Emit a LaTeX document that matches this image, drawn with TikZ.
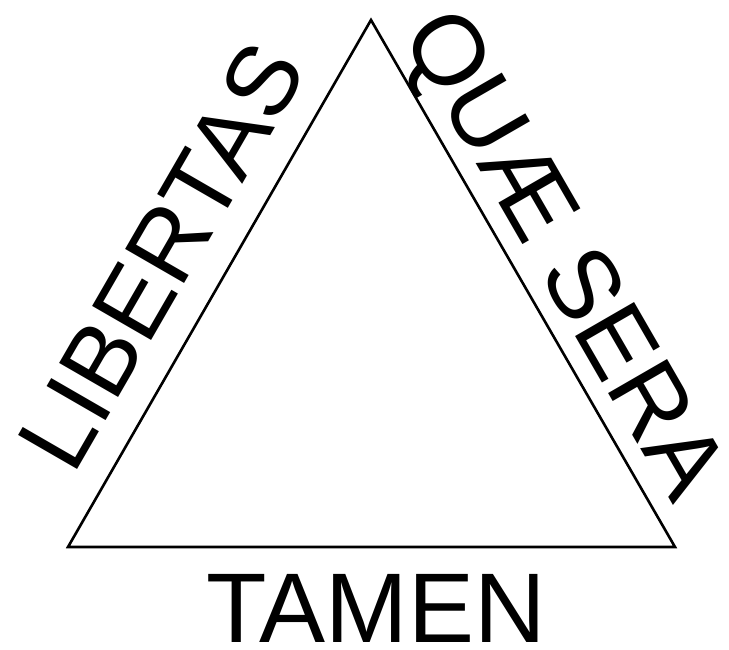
\documentclass[tikz,border=0pt]{standalone}
\usepackage{fontspec}
\setmainfont{Liberation Sans}
\begin{document}
\begin{tikzpicture}[x=1pt,y=1pt,
  motto/.style={font=\fontsize{99}{99}\selectfont, inner sep=0pt, anchor=base}]
\useasboundingbox (0,0) rectangle (729,650);
\coordinate (top) at (371,630);
\coordinate (bl) at (68,103);
\coordinate (br) at (675,103);
\draw[line width=2.6pt, line join=miter] (top) -- (bl) -- (br) -- cycle;
\node[motto, rotate=60] (lib) at (191,377) {LIBERTAS};
\node[motto, rotate=-60] (qua) at (537,380) {QUÆ SERA};
\node[motto] (tam) at (376,7) {TAMEN};
\end{tikzpicture}
\end{document}
